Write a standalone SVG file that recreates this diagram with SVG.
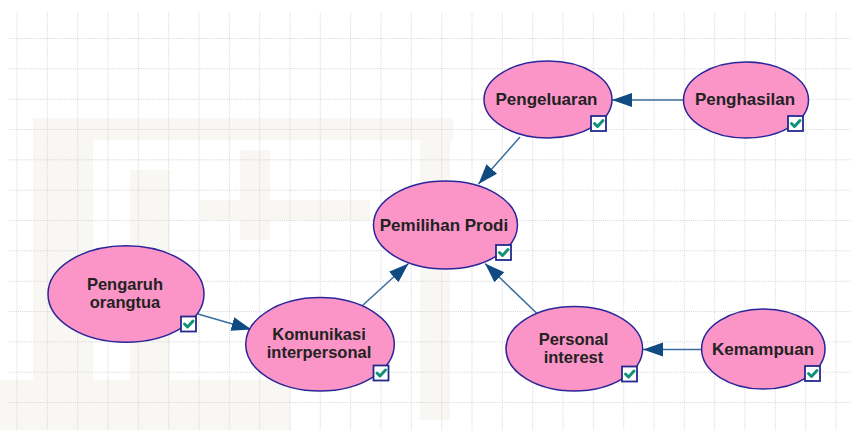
<svg xmlns="http://www.w3.org/2000/svg" width="851" height="430" viewBox="0 0 851 430">
  <defs>
    <style>
      .grid { stroke: #d4d4d4; stroke-width: 1; stroke-dasharray: 1 1.2; fill: none; }
      .wm { fill: #f5f2ec; }
      .node ellipse { fill: #fb95c8; stroke: #2a269a; stroke-width: 1.5; }
      .node text { font-family: "Liberation Sans", Arial, sans-serif; font-weight: bold; font-size: 17px; fill: #222; text-anchor: middle; }
      .node text.two { font-size: 16.5px; }
      .edge { stroke: #3a6e9c; stroke-width: 1.5; fill: none; marker-end: url(#arrow); }
    </style>
    <marker id="arrow" markerUnits="userSpaceOnUse" markerWidth="22" markerHeight="16" refX="20" refY="7" orient="auto">
      <path d="M0,0 L20,7 L0,14 Z" fill="#0f4a80"/>
    </marker>
    <!-- status checkbox shown at the lower right of each node -->
    <g id="check">
      <rect x="0" y="0" width="15" height="15" fill="#ffffff" stroke="#242a8e" stroke-width="1.8"/>
      <path d="M3.5,7.5 L6.5,10.5 L12,4.5" fill="none" stroke="#11917a" stroke-width="3" stroke-linecap="round" stroke-linejoin="round"/>
    </g>
  </defs>

  <rect width="851" height="430" fill="#ffffff"/>

  <!-- faint background emblem -->
  <g opacity="0.55">
    <rect class="wm" x="33" y="118" width="60" height="312"/>
    <rect class="wm" x="33" y="118" width="420" height="22"/>
    <rect class="wm" x="130" y="170" width="40" height="260"/>
    <rect class="wm" x="200" y="200" width="170" height="20"/>
    <rect class="wm" x="240" y="150" width="30" height="90"/>
    <rect class="wm" x="0" y="380" width="290" height="50"/>
    <rect class="wm" x="420" y="140" width="30" height="280"/>
  </g>

  <!-- dotted grid -->
  <path class="grid" d="
    M9,38.5 H851 M9,68.8 H851 M9,99.2 H851 M9,129.5 H851 M9,159.8 H851 M9,190.2 H851
    M9,220.5 H851 M9,250.8 H851 M9,281.2 H851 M9,311.5 H851 M9,341.8 H851 M9,372.2 H851 M9,402.5 H851
    M17,13 V430 M47.3,13 V430 M77.7,13 V430 M108,13 V430 M138.3,13 V430 M168.7,13 V430 M199,13 V430
    M229.3,13 V430 M259.7,13 V430 M290,13 V430 M320.3,13 V430 M350.7,13 V430 M381,13 V430 M411.3,13 V430
    M441.7,13 V430 M472,13 V430 M502.3,13 V430 M532.7,13 V430 M563,13 V430 M593.3,13 V430 M623.7,13 V430
    M654,13 V430 M684.3,13 V430 M714.7,13 V430 M745,13 V430 M775.3,13 V430 M805.7,13 V430 M836,13 V430"/>

  <!-- connectors -->
  <g id="connectors">
    <line class="edge" x1="683" y1="100" x2="612" y2="100"/>
    <line class="edge" x1="520" y1="137" x2="478.5" y2="184"/>
    <line class="edge" x1="363" y1="305" x2="408.5" y2="263.5"/>
    <line class="edge" x1="537" y1="313.5" x2="485" y2="263.5"/>
    <line class="edge" x1="198" y1="314" x2="251.5" y2="329.5"/>
    <line class="edge" x1="702" y1="349.5" x2="643" y2="349.5"/>
  </g>

  <!-- nodes -->
  <g id="pengeluaran" class="node">
    <ellipse cx="548" cy="99.5" rx="64" ry="38.5"/>
    <text x="546.5" y="104.5">Pengeluaran</text>
    <use href="#check" x="591" y="116"/>
  </g>

  <g id="penghasilan" class="node">
    <ellipse cx="746" cy="100" rx="62.5" ry="38"/>
    <text x="745" y="105">Penghasilan</text>
    <use href="#check" x="788" y="116"/>
  </g>

  <g id="pemilihan-prodi" class="node">
    <ellipse cx="445.5" cy="225" rx="72" ry="44"/>
    <text x="444" y="230.5">Pemilihan Prodi</text>
    <use href="#check" x="496" y="245"/>
  </g>

  <g id="pengaruh-orangtua" class="node">
    <ellipse cx="126" cy="294" rx="78" ry="48.3"/>
    <text class="two" x="125" y="289.5">Pengaruh</text>
    <text class="two" x="125" y="307.5">orangtua</text>
    <use href="#check" x="181" y="316.5"/>
  </g>

  <g id="komunikasi-interpersonal" class="node">
    <ellipse cx="320" cy="344.3" rx="74.3" ry="46.7"/>
    <text class="two" x="319" y="340">Komunikasi</text>
    <text class="two" x="319" y="358">interpersonal</text>
    <use href="#check" x="373.5" y="365.5"/>
  </g>

  <g id="personal-interest" class="node">
    <ellipse cx="574.3" cy="348.8" rx="68.3" ry="42.2"/>
    <text class="two" x="573.5" y="344.5">Personal</text>
    <text class="two" x="573.5" y="362.5">interest</text>
    <use href="#check" x="622" y="366.5"/>
  </g>

  <g id="kemampuan" class="node">
    <ellipse cx="763.3" cy="349" rx="61.7" ry="40"/>
    <text x="763" y="354.5">Kemampuan</text>
    <use href="#check" x="805" y="366"/>
  </g>
</svg>
